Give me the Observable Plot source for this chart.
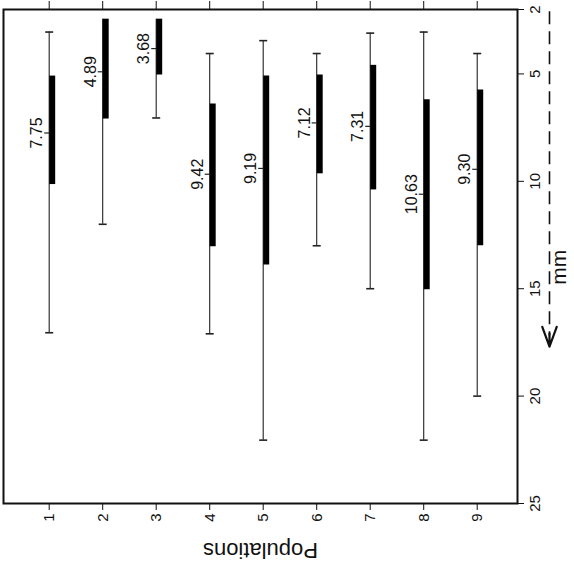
<!DOCTYPE html>
<html><head><meta charset="utf-8">
<script src="https://cdn.jsdelivr.net/npm/d3@7"></script>
<script src="https://cdn.jsdelivr.net/npm/@observablehq/plot@0.6"></script>
<style>body{margin:0;background:#fff}</style>
</head><body><div id="chart"></div>
<script>
// Populations along the horizontal axis
const populations = [1, 2, 3, 4, 5, 6, 7, 8, 9];
// Printed mean labels
const meanLabels = ["7.75", "4.89", "3.68", "9.42", "9.19", "7.12", "7.31", "10.63", "9.30"];
// Position of the mean tick (mm)
const meanPos = [7.75, 4.9, 3.82, 9.67, 9.4, 7.28, 7.44, 10.6, 9.44];
// Range (thin line) in mm
const rangeMin = [3.05, 2.45, 2.45, 4.05, 3.45, 4.05, 3.1, 3.05, 4.05];
const rangeMax = [17.05, 12.0, 7.05, 17.1, 22.05, 13.0, 15.0, 22.05, 20.0];
// Thick bar in mm
const barLow = [5.1, 2.45, 2.45, 6.4, 5.1, 5.05, 4.6, 6.2, 5.75];
const barHigh = [10.15, 7.1, 5.05, 13.05, 13.9, 9.65, 10.4, 15.05, 13.0];
// mm axis
const mmTicks = [2, 5, 10, 15, 20, 25];
const mmDomain = [2, 25];
const popDomain = [0.146, 9.753];
const axisTitle = "Populations";
const unitLabel = "mm";
const unitLabelAt = 14;
const arrowShaft = [2.1, 17.2];
const arrowHead = [14.75, 17.7];

const rows = populations.map((p, i) => ({
  p, label: meanLabels[i], mean: meanPos[i],
  min: rangeMin[i], max: rangeMax[i], lo: barLow[i], hi: barHigh[i]
}));

const capSymbol = {draw(ctx, size) { const r = Math.sqrt(size / Math.PI); ctx.moveTo(-r, 0); ctx.lineTo(r, 0); }};
const leftTick = {draw(ctx, size) { const r = Math.sqrt(size / Math.PI); ctx.moveTo(-r, 0); ctx.lineTo(0, 0); }};

const xRight = popDomain[1];

const chart = Plot.plot({
  width: 574, height: 565,
  marginLeft: 3, marginRight: 57, marginTop: 9, marginBottom: 62,
  style: {fontFamily: "'Liberation Sans', Arial, sans-serif", color: "#111", background: "#fff"},
  x: {domain: popDomain, axis: null},
  y: {domain: mmDomain, reverse: true, axis: null},
  marks: [
    Plot.frame({stroke: "#111", strokeWidth: 2}),
    Plot.axisX({ticks: populations, anchor: "bottom", tickSize: 7, tickPadding: 3, tickRotate: -90, fontSize: 15, label: null, tickFormat: d => String(d)}),
    Plot.axisX({ticks: populations, anchor: "top", tickSize: 9, label: null, tickFormat: () => ""}),
    Plot.axisY({ticks: mmTicks, anchor: "right", tickSize: 6, tickPadding: 6, tickRotate: -90, textAnchor: "middle", lineAnchor: "top", fontSize: 15, label: null, tickFormat: d => String(d)}),
    Plot.ruleX(rows, {x: "p", y1: "min", y2: "max", stroke: "#222", strokeWidth: 1.1}),
    Plot.ruleX(rows, {x: "p", y1: "lo", y2: "hi", stroke: "#000", strokeWidth: 6, dx: 3}),
    Plot.dot(rows.filter(d => d.min < d.lo - 0.05), {x: "p", y: "min", symbol: capSymbol, r: 4, fill: "none", stroke: "#222", strokeWidth: 1.6}),
    Plot.dot(rows, {x: "p", y: "max", symbol: capSymbol, r: 4, fill: "none", stroke: "#222", strokeWidth: 1.6}),
    Plot.dot(rows, {x: "p", y: "mean", symbol: leftTick, r: 5, fill: "none", stroke: "#222", strokeWidth: 1.2}),
    Plot.text(rows, {x: "p", y: "mean", text: "label", rotate: -90, dx: -12, fontSize: 16, textAnchor: "middle", lineAnchor: "middle", fill: "#111"}),
    Plot.text([axisTitle], {frameAnchor: "bottom", dy: 47, rotate: 180, fontSize: 22, lineAnchor: "middle", fill: "#111"}),
    Plot.text([unitLabel], {y: unitLabelAt, frameAnchor: "right", dx: 42, rotate: -90, fontSize: 21, textAnchor: "middle", lineAnchor: "middle", fill: "#111"}),
    Plot.ruleX([xRight], {y1: arrowShaft[0], y2: arrowShaft[1], dx: 32, stroke: "#111", strokeWidth: 1.6, strokeDasharray: "13,7"}),
    Plot.arrow([xRight], {x1: d => d, x2: d => d, y1: arrowHead[0], y2: arrowHead[1], dx: 32, insetStart: 50, headAngle: 40, headLength: 15, stroke: "#111", strokeWidth: 2.2})
  ]
});
document.getElementById("chart").appendChild(chart);
</script>
</body></html>
